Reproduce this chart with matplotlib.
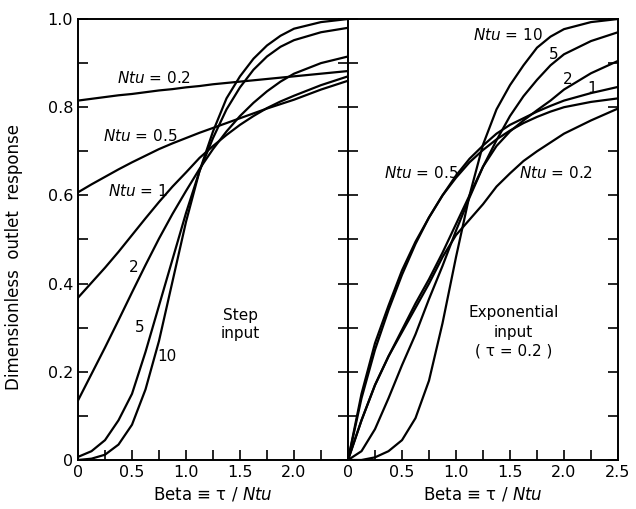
import matplotlib.pyplot as plt
from matplotlib.ticker import MultipleLocator

# beta = tau / Ntu, shared grid for all read-off curves
beta = [0, 0.125, 0.25, 0.375, 0.5, 0.625, 0.75, 0.875, 1.0, 1.125, 1.25,
        1.375, 1.5, 1.625, 1.75, 1.875, 2.0, 2.25, 2.5]

# step input (left panel)
step_ntu_02 = [0.815, 0.819, 0.823, 0.827, 0.830, 0.834, 0.838, 0.841, 0.845, 0.848,
               0.852, 0.855, 0.858, 0.861, 0.864, 0.867, 0.870, 0.876, 0.882]
step_ntu_05 = [0.607, 0.625, 0.642, 0.659, 0.675, 0.690, 0.705, 0.718, 0.730, 0.742,
               0.753, 0.764, 0.775, 0.786, 0.797, 0.807, 0.817, 0.840, 0.860]
step_ntu_1 = [0.368, 0.402, 0.436, 0.472, 0.510, 0.548, 0.585, 0.620, 0.652, 0.685,
              0.712, 0.737, 0.760, 0.780, 0.798, 0.813, 0.826, 0.850, 0.870]
step_ntu_2 = [0.135, 0.195, 0.255, 0.317, 0.380, 0.442, 0.502, 0.558, 0.610, 0.660,
              0.705, 0.745, 0.780, 0.810, 0.836, 0.858, 0.876, 0.900, 0.915]
step_ntu_5 = [0.007, 0.020, 0.045, 0.090, 0.150, 0.245, 0.350, 0.455, 0.560, 0.655,
              0.730, 0.795, 0.845, 0.885, 0.915, 0.937, 0.952, 0.970, 0.980]
step_ntu_10 = [0.000, 0.003, 0.012, 0.035, 0.080, 0.160, 0.270, 0.405, 0.540, 0.655,
               0.745, 0.820, 0.870, 0.910, 0.940, 0.962, 0.978, 0.993, 1.000]

# exponential input, tau = 0.2 (right panel)
exp_ntu_02 = [0.0, 0.090, 0.170, 0.235, 0.290, 0.345, 0.400, 0.460, 0.510, 0.545,
              0.580, 0.620, 0.650, 0.678, 0.700, 0.720, 0.740, 0.770, 0.797]
exp_ntu_05 = [0.0, 0.150, 0.265, 0.350, 0.430, 0.495, 0.550, 0.600, 0.640, 0.675,
              0.703, 0.727, 0.747, 0.764, 0.778, 0.790, 0.800, 0.812, 0.820]
exp_ntu_1 = [0.0, 0.140, 0.250, 0.340, 0.420, 0.490, 0.550, 0.600, 0.645, 0.683,
             0.713, 0.740, 0.760, 0.775, 0.790, 0.803, 0.815, 0.832, 0.846]
exp_ntu_2 = [0.0, 0.090, 0.170, 0.235, 0.295, 0.355, 0.410, 0.470, 0.535, 0.600,
             0.665, 0.712, 0.745, 0.770, 0.793, 0.815, 0.840, 0.877, 0.905]
exp_ntu_5 = [0.0, 0.020, 0.070, 0.140, 0.215, 0.285, 0.365, 0.440, 0.520, 0.595,
             0.665, 0.725, 0.780, 0.825, 0.862, 0.895, 0.920, 0.950, 0.970]
exp_ntu_10 = [0.0, 0.000, 0.006, 0.020, 0.045, 0.095, 0.180, 0.310, 0.460, 0.600,
              0.715, 0.795, 0.850, 0.895, 0.935, 0.960, 0.977, 0.993, 1.000]

step_curves = [step_ntu_02, step_ntu_05, step_ntu_1, step_ntu_2, step_ntu_5, step_ntu_10]
exp_curves = [exp_ntu_02, exp_ntu_05, exp_ntu_1, exp_ntu_2, exp_ntu_5, exp_ntu_10]

y_ticks = [0, 0.2, 0.4, 0.6, 0.8, 1.0]
y_labels = ['0', '0.2', '0.4', '0.6', '0.8', '1.0']
x_ticks_left = [0, 0.5, 1.0, 1.5, 2.0]
x_labels_left = ['0', '0.5', '1.0', '1.5', '2.0']
x_ticks_right = [0, 0.5, 1.0, 1.5, 2.0, 2.5]
x_labels_right = ['0', '0.5', '1.0', '1.5', '2.0', '2.5']

plt.rcParams['font.family'] = 'DejaVu Sans'
plt.rcParams['mathtext.fontset'] = 'dejavusans'

fig = plt.figure(figsize=(6.36, 5.09), dpi=100)
ax1 = fig.add_axes([78 / 636, 49 / 509, 270 / 636, 441 / 509])
ax2 = fig.add_axes([348 / 636, 49 / 509, 270 / 636, 441 / 509])

for ax in (ax1, ax2):
    ax.set_xlim(0, 2.5)
    ax.set_ylim(0, 1.0)
    ax.set_yticks(y_ticks)
    ax.xaxis.set_minor_locator(MultipleLocator(0.25))
    ax.yaxis.set_minor_locator(MultipleLocator(0.1))
    ax.tick_params(which='both', direction='in', length=7, width=1.2,
                   left=True, right=True, top=False, bottom=True, labelsize=11.5)
    for s in ax.spines.values():
        s.set_linewidth(1.4)

for y in step_curves:
    ax1.plot(beta, y, color='black', lw=1.6)
for y in exp_curves:
    ax2.plot(beta, y, color='black', lw=1.6)

ax1.set_xticks(x_ticks_left, x_labels_left)
ax1.set_yticks(y_ticks, y_labels)
ax2.set_xticks(x_ticks_right, x_labels_right)
ax2.tick_params(labelleft=False)

fs = 11
ax1.text(0.70, 0.866, '$Ntu$ = 0.2', fontsize=fs, ha='center', va='center')
ax1.text(0.58, 0.734, '$Ntu$ = 0.5', fontsize=fs, ha='center', va='center')
ax1.text(0.55, 0.610, '$Ntu$ = 1', fontsize=fs, ha='center', va='center')
ax1.text(0.52, 0.436, '2', fontsize=fs, ha='center', va='center')
ax1.text(0.57, 0.300, '5', fontsize=fs, ha='center', va='center')
ax1.text(0.82, 0.234, '10', fontsize=fs, ha='center', va='center')
ax1.text(1.50, 0.307, 'Step\ninput', fontsize=fs, ha='center', va='center',
         linespacing=1.3)

ax2.text(1.48, 0.964, '$Ntu$ = 10', fontsize=fs, ha='center', va='center')
ax2.text(1.90, 0.920, '5', fontsize=fs, ha='center', va='center')
ax2.text(2.03, 0.862, '2', fontsize=fs, ha='center', va='center')
ax2.text(2.26, 0.842, '1', fontsize=fs, ha='center', va='center')
ax2.text(0.68, 0.650, '$Ntu$ = 0.5', fontsize=fs, ha='center', va='center')
ax2.text(1.92, 0.650, '$Ntu$ = 0.2', fontsize=fs, ha='center', va='center')
ax2.text(1.53, 0.290, 'Exponential\ninput\n( τ = 0.2 )', fontsize=fs,
         ha='center', va='center', linespacing=1.35)

ax1.set_ylabel('Dimensionless  outlet  response', fontsize=12)
ax1.yaxis.set_label_coords(-0.205, 0.46)
ax1.set_xlabel('Beta ≡ τ / $Ntu$', fontsize=12, labelpad=4)
ax2.set_xlabel('Beta ≡ τ / $Ntu$', fontsize=12, labelpad=4)

fig.savefig('out.png', dpi=100)
